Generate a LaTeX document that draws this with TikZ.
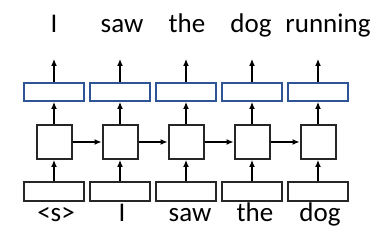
\documentclass[tikz,border=0pt]{standalone}
\usepackage{fontspec}
\setmainfont{Carlito}
\usetikzlibrary{arrows.meta}
\begin{document}
\begin{tikzpicture}[x=1pt,y=-1pt,
  word/.style={anchor=base,inner sep=0pt,font=\fontsize{27}{31}\selectfont},
  outbox/.style={draw={rgb,255:red,47;green,84;blue,150},line width=2pt,minimum width=60pt,minimum height=18pt,inner sep=0pt},
  inbox/.style={draw=black!85,line width=2pt,minimum width=60pt,minimum height=19pt,inner sep=0pt},
  cell/.style={draw=black!85,line width=2pt,minimum width=35pt,minimum height=34pt,inner sep=0pt},
  link/.style={line width=1.2pt,-{Latex[length=7pt,width=6pt]}}]
\useasboundingbox (0,0) rectangle (382,245);

% columns of the unrolled network
\foreach \i/\c in {1/54,2/120,3/186,4/252,5/318}{
  \node[outbox] (o\i) at (\c,92) {};
  \coordinate (u\i) at (\c,59);
  \node[cell] (h\i) at (\c,142) {};
  \node[inbox] (x\i) at (\c,191.5) {};
  \draw[link] (x\i.north) -- (h\i.south);
  \draw[link] (h\i.north) -- (o\i.south);
  \draw[link] (o\i.north) -- (u\i);
}
% recurrent connections
\foreach \a/\b in {1/2,2/3,3/4,4/5}{
  \draw[link] (h\a.east) -- (h\b.west);
}

% predicted words
\node[word] (t1) at (54,33) {I};
\node[word] (t2) at (122,33) {saw};
\node[word] (t3) at (187,33) {the};
\node[word] (t4) at (251,33) {dog};
\node[word] (t5) at (328,33) {running};

% input words
\node[word] (b1) at (56,222) {<s>};
\node[word] (b2) at (122,222) {I};
\node[word] (b3) at (190,222) {saw};
\node[word] (b4) at (255,222) {the};
\node[word] (b5) at (320,222) {dog};
\end{tikzpicture}
\end{document}
